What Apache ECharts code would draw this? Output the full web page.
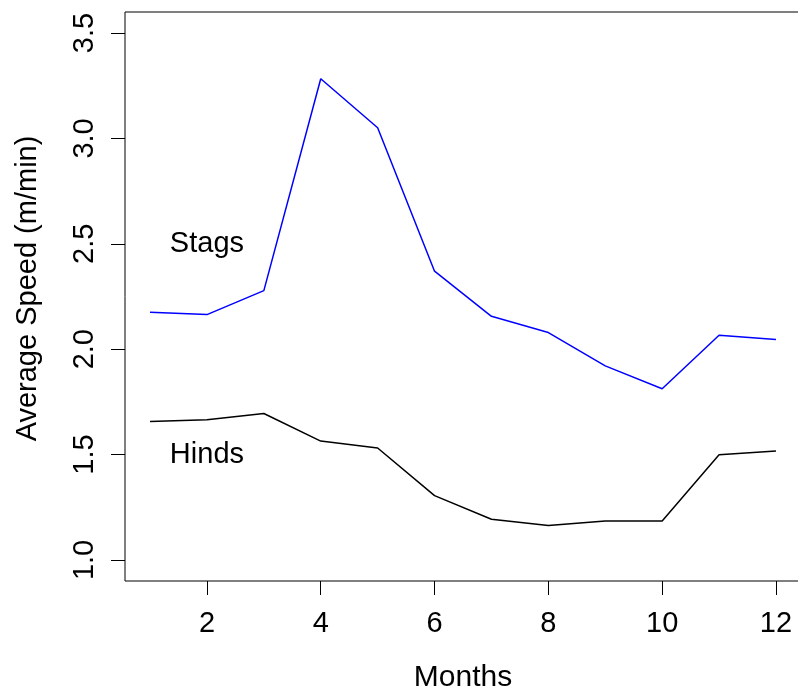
<!DOCTYPE html>
<html>
<head>
<meta charset="utf-8">
<script src="https://cdn.jsdelivr.net/npm/echarts@6/dist/echarts.min.js"></script>
<style>
  html, body { margin: 0; padding: 0; background: #fff; }
  #main { width: 798px; height: 693px; }
</style>
</head>
<body>
<div id="main"></div>
<script>
var months = [1, 2, 3, 4, 5, 6, 7, 8, 9, 10, 11, 12];
var stags = [2.175, 2.164, 2.278, 3.283, 3.051, 2.370, 2.156, 2.079, 1.921, 1.812, 2.066, 2.046];
var hinds = [1.657, 1.665, 1.695, 1.564, 1.531, 1.305, 1.193, 1.163, 1.185, 1.185, 1.499, 1.517];
var xTicks = [2, 4, 6, 8, 10, 12];
var yTicks = [1.0, 1.5, 2.0, 2.5, 3.0, 3.5];
var labelNames = ['Stags', 'Hinds'];
var labelX = [2, 2];
var labelY = [2.5, 1.5];

var font = '"Liberation Sans", Arial, Helvetica, sans-serif';

function pairs(xs, ys) {
    return xs.map(function (x, i) { return [x, ys[i]]; });
}

var chart = echarts.init(document.getElementById('main'));

var option = {
    animation: false,
    backgroundColor: '#fff',
    textStyle: { fontFamily: font },
    grid: {
        show: true,
        left: 125,
        top: 12,
        width: 676,
        height: 569,
        outerBoundsMode: 'none',
        containLabel: false,
        borderColor: '#000',
        borderWidth: 1,
        backgroundColor: 'transparent'
    },
    xAxis: {
        type: 'value',
        min: 0.56,
        max: 12.44,
        name: 'Months',
        nameLocation: 'middle',
        nameGap: 82,
        nameTextStyle: { fontSize: 30, color: '#000', fontFamily: font },
        splitLine: { show: false },
        axisLine: { show: false },
        axisTick: {
            show: true,
            length: 14,
            customValues: xTicks,
            lineStyle: { color: '#000', width: 1 }
        },
        axisLabel: {
            customValues: xTicks,
            margin: 28,
            fontSize: 29,
            color: '#000',
            fontFamily: font
        }
    },
    yAxis: {
        type: 'value',
        min: 0.9,
        max: 3.6,
        name: 'Average Speed (m/min)',
        nameLocation: 'middle',
        nameGap: 83,
        nameTextStyle: {
            fontSize: 29,
            color: '#000',
            fontFamily: font,
            padding: [0, 0, 0, 16]
        },
        splitLine: { show: false },
        axisLine: { show: false },
        axisTick: {
            show: true,
            length: 14,
            customValues: yTicks,
            lineStyle: { color: '#000', width: 1 }
        },
        axisLabel: {
            customValues: yTicks,
            rotate: 90,
            margin: 26,
            fontSize: 29,
            color: '#000',
            fontFamily: font,
            formatter: function (v) { return v.toFixed(1); }
        }
    },
    series: [
        {
            name: 'Stags',
            type: 'line',
            data: pairs(months, stags),
            symbol: 'none',
            lineStyle: { color: '#0000ff', width: 1.5 }
        },
        {
            name: 'Hinds',
            type: 'line',
            data: pairs(months, hinds),
            symbol: 'none',
            lineStyle: { color: '#000', width: 1.5 }
        },
        {
            type: 'scatter',
            symbolSize: 0,
            itemStyle: { color: '#000' },
            data: labelNames.map(function (n, i) {
                return { name: n, value: [labelX[i], labelY[i]] };
            }),
            label: {
                show: true,
                position: 'inside',
                formatter: '{b}',
                fontSize: 29,
                color: '#000',
                textBorderWidth: 0,
                opacity: 1,
                fontFamily: font
            },
            silent: true
        }
    ]
};

chart.setOption(option);
</script>
</body>
</html>
